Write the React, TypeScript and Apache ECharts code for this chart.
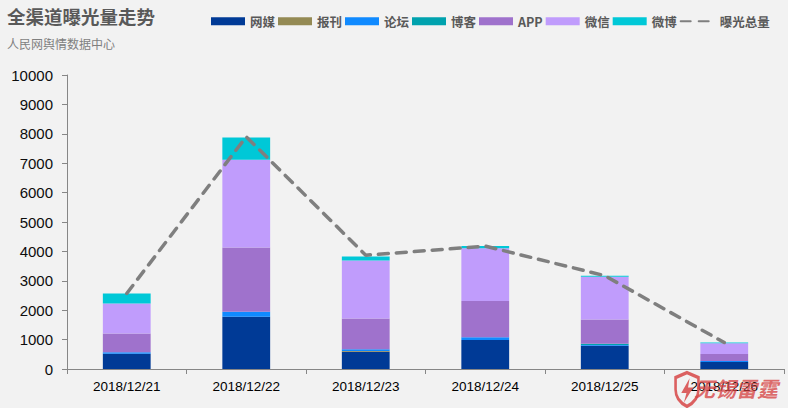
import React, { useEffect, useRef } from "react";
import * as echarts from "echarts";

const categories = ["2018/12/21", "2018/12/22", "2018/12/23", "2018/12/24", "2018/12/25", "2018/12/26"];
const wangmei = [520, 1780, 590, 990, 790, 240];
const baokan = [0, 0, 20, 0, 0, 0];
const luntan = [50, 170, 60, 90, 30, 30];
const boke = [0, 0, 0, 0, 40, 0];
const app = [640, 2180, 1050, 1230, 820, 240];
const weixin = [1020, 2990, 1970, 1800, 1460, 370];
const weibo = [340, 750, 140, 70, 35, 20];
const total = [2570, 7900, 3870, 4180, 3175, 900];

const barSeries = [
  { name: "网媒", data: wangmei, color: "#003a96" },
  { name: "报刊", data: baokan, color: "#948a54" },
  { name: "论坛", data: luntan, color: "#108aff" },
  { name: "博客", data: boke, color: "#00a2ae" },
  { name: "APP", data: app, color: "#9f72cc" },
  { name: "微信", data: weixin, color: "#c09cfc" },
  { name: "微博", data: weibo, color: "#00c8d7" },
];

const SHIELD = "M50 2 L94 16 L94 50 Q94 82 50 98 Q6 82 6 50 L6 16 Z";
const BOLT = "M60 18 L28 60 L48 60 L38 88 L74 44 L54 44 Z";

export default function App() {
  const ref = useRef<HTMLDivElement>(null);
  useEffect(() => {
    if (!ref.current) return;
    echarts.graphic.registerShape("shieldLogo", echarts.graphic.extendPath(SHIELD, {}));
    echarts.graphic.registerShape("boltLogo", echarts.graphic.extendPath(BOLT, {}));
    const chart = echarts.init(ref.current, undefined, { renderer: "svg" });
    const fam = "'Liberation Sans', Arial, 'Noto Sans CJK SC', sans-serif";
    const cjk = "'Noto Sans CJK SC', 'Microsoft YaHei', sans-serif";
    chart.setOption({
      animation: false,
      backgroundColor: "#f2f2f2",
      title: [
        {
          text: "全渠道曝光量走势",
          left: 2,
          top: 2,
          textStyle: { fontSize: 18.5, fontWeight: "bold", color: "#595959", fontFamily: cjk },
        },
        {
          text: "人民网舆情数据中心",
          left: 2,
          top: 32,
          textStyle: { fontSize: 12, fontWeight: "normal", color: "#7f7f7f", fontFamily: cjk },
        },
      ],
      legend: {
        left: 206,
        top: 10,
        width: 582,
        itemWidth: 34,
        itemHeight: 8,
        itemGap: 3,
        textStyle: { fontSize: 12.5, fontWeight: "bold", color: "#595959", fontFamily: cjk },
        data: [
          ...barSeries.map((s) => ({ name: s.name, icon: "rect" })),
          { name: "曝光总量", itemStyle: { opacity: 0 } },
        ],
      },
      grid: { left: 67, right: 4, top: 75, bottom: 39 },
      xAxis: {
        type: "category",
        data: categories,
        axisLine: { lineStyle: { color: "#868686", width: 1 } },
        axisTick: { show: true, length: 5, lineStyle: { color: "#868686" } },
        axisLabel: { color: "#000", fontSize: 13.5, fontFamily: fam, margin: 11 },
      },
      yAxis: {
        type: "value",
        min: 0,
        max: 10000,
        interval: 1000,
        axisLine: { show: true, lineStyle: { color: "#868686", width: 1 } },
        axisTick: { show: true, length: 5, lineStyle: { color: "#868686" } },
        splitLine: { show: false },
        axisLabel: {
          color: "#0d0d0d",
          fontSize: 15,
          fontFamily: fam,
          margin: 14,
          formatter: (v: number) => String(v),
        },
      },
      series: [
        ...barSeries.map((s) => ({
          name: s.name,
          type: "bar",
          stack: "total",
          barWidth: "40%",
          data: s.data,
          itemStyle: { color: s.color },
        })),
        {
          name: "曝光总量",
          type: "line",
          data: total,
          symbol: "none",
          z: 5,
          lineStyle: { color: "#7f7f7f", width: 3.5, type: [10, 8], cap: "round" },
          itemStyle: { color: "#7f7f7f" },
        },
      ],
      graphic: [
        {
          type: "shieldLogo",
          x: 674,
          y: 372,
          scaleX: 0.26,
          scaleY: 0.35,
          z: 100,
          style: { fill: "none", stroke: "rgba(215,70,70,0.85)", lineWidth: 10 },
        },
        {
          type: "boltLogo",
          x: 674,
          y: 372,
          scaleX: 0.26,
          scaleY: 0.35,
          z: 100,
          style: { fill: "rgba(215,70,70,0.85)" },
        },
        {
          type: "text",
          x: 694,
          y: 377,
          z: 100,
          style: {
            text: "无锡雷霆",
            fill: "rgba(215,70,70,0.8)",
            font: "italic bold 21px 'Noto Sans CJK SC', sans-serif",
          },
        },
      ],
    });
    return () => chart.dispose();
  }, []);
  return (
    <div
      ref={ref}
      style={{ position: "absolute", left: 0, top: 0, width: 788, height: 408 }}
    />
  );
}
